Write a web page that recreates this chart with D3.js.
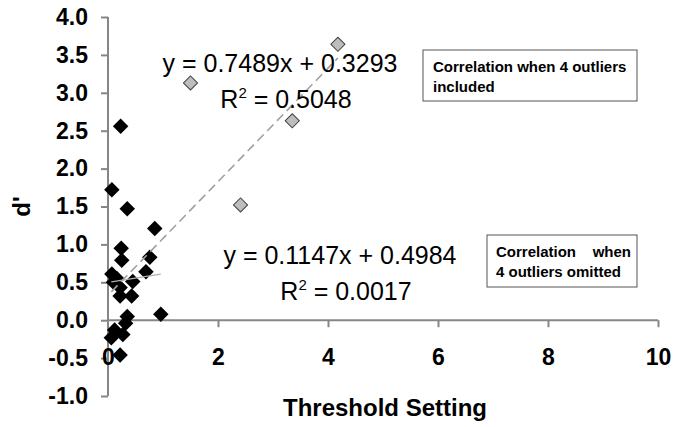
<!DOCTYPE html>
<html><head><meta charset="utf-8">
<script src="https://cdn.jsdelivr.net/npm/d3@7"></script>
<style>body{margin:0;background:#fff}svg{display:block}text{font-family:"Liberation Sans",Arial,sans-serif}</style>
</head><body><svg id="c" width="683" height="427"></svg>
<script>
// Data (Threshold Setting vs d')
const mainX = [0.23,0.07,0.35,0.85,0.24,0.25,0.76,0.69,0.07,0.16,0.10,0.45,0.22,0.22,0.43,0.96,0.35,0.32,0.12,0.27,0.06,0.22];
const mainY = [2.56,1.72,1.47,1.21,0.95,0.79,0.83,0.64,0.61,0.55,0.50,0.51,0.43,0.32,0.32,0.08,0.05,-0.04,-0.13,-0.19,-0.23,-0.46];
const outX = [1.50,4.18,3.35,2.41];
const outY = [3.13,3.64,2.63,1.52];
const xTicks = [0,2,4,6,8,10];
const yTicks = [-1.0,-0.5,0.0,0.5,1.0,1.5,2.0,2.5,3.0,3.5,4.0];
const fitAll = {slope:0.7489, intercept:0.3293, r2:"0.5048"};
const fitMain = {slope:0.1147, intercept:0.4984, r2:"0.0017"};
const box1Lines = ["Correlation when 4 outliers","included"];
const box2Lines = ["Correlation    when","4 outliers omitted"];

const svg = d3.select("#c");
const x = d3.scaleLinear().domain([0,10]).range([108,658]);
const y = d3.scaleLinear().domain([-1,4]).range([396,17]);
const axisCol = "#868686";
const fmt1 = d => d3.format(".1f")(d).replace("\u2212","-");

// Y axis
const yAxis = svg.append("g").attr("transform",`translate(${x(0)},0)`)
  .call(d3.axisLeft(y).tickValues(yTicks).tickSize(7).tickFormat(fmt1));
yAxis.select(".domain").attr("stroke",axisCol).attr("stroke-width",2).attr("d",`M0,${y(-1)}V${y(4)}`);
yAxis.selectAll(".tick line").attr("stroke",axisCol).attr("stroke-width",2);
yAxis.selectAll(".tick text").attr("x",-20).attr("fill","#000")
  .style("font-size","23px").style("font-weight","bold").style("font-family","Liberation Sans, Arial, sans-serif");

// X axis at y=0
const xAxis = svg.append("g").attr("transform",`translate(0,${y(0)})`)
  .call(d3.axisBottom(x).tickValues(xTicks).tickSize(7).tickFormat(d3.format("d")));
xAxis.select(".domain").attr("stroke",axisCol).attr("stroke-width",2).attr("d",`M${x(0)},0H${x(10)}`);
xAxis.selectAll(".tick line").attr("stroke",axisCol).attr("stroke-width",2).filter(d=>d===0).remove();
xAxis.selectAll(".tick text").attr("y",28).attr("dy","0.71em").attr("fill","#000")
  .style("font-size","23px").style("font-weight","bold").style("font-family","Liberation Sans, Arial, sans-serif");

// Axis titles
svg.append("text").attr("transform",`translate(30,${(y(4)+y(-1))/2}) rotate(-90)`)
  .attr("text-anchor","middle").style("font-size","24px").style("font-weight","bold").text("d'");
svg.append("text").attr("x",385).attr("y",416).attr("text-anchor","middle")
  .style("font-size","24px").style("font-weight","bold").text("Threshold Setting");

// markers
const mainPts = mainX.map((v,i)=>({x:v,y:mainY[i]}));
const outPts = outX.map((v,i)=>({x:v,y:outY[i]}));
svg.append("g").selectAll("path").data(mainPts).join("path")
  .attr("d",d3.symbol().type(d3.symbolSquare).size(120)).attr("transform",d=>`translate(${x(d.x)},${y(d.y)}) rotate(45)`)
  .attr("fill","#000");
svg.append("g").selectAll("path").data(outPts).join("path")
  .attr("d",d3.symbol().type(d3.symbolSquare).size(100)).attr("transform",d=>`translate(${x(d.x)},${y(d.y)}) rotate(45)`)
  .attr("fill","#bdbdbd").attr("stroke","#404040").attr("stroke-width",1);

// trendlines
const allX = mainX.concat(outX);
const x0 = d3.min(allX), x1 = d3.max(allX);
svg.append("line").attr("x1",x(x0)).attr("y1",y(fitAll.slope*x0+fitAll.intercept))
  .attr("x2",x(x1)).attr("y2",y(fitAll.slope*x1+fitAll.intercept))
  .attr("stroke","#a0a0a0").attr("stroke-width",1.6).attr("stroke-dasharray","9,5");
const m0 = d3.min(mainX), m1 = d3.max(mainX);
svg.append("line").attr("x1",x(m0)).attr("y1",y(fitMain.slope*m0+fitMain.intercept))
  .attr("x2",x(m1)).attr("y2",y(fitMain.slope*m1+fitMain.intercept))
  .attr("stroke","#b0b0b0").attr("stroke-width",1.2);

// equations
function eq(cx, cy, fit){
  svg.append("text").attr("x",cx).attr("y",cy).attr("text-anchor","middle")
    .style("font-size","25px").text(`y = ${fit.slope.toFixed(4)}x + ${fit.intercept.toFixed(4)}`);
  const t = svg.append("text").attr("x",cx+6).attr("y",cy+36).attr("text-anchor","middle").style("font-size","25px");
  t.append("tspan").text("R");
  t.append("tspan").attr("dy",-10).style("font-size","15px").text("2");
  t.append("tspan").attr("dy",10).text(` = ${fit.r2}`);
}
eq(280, 72, fitAll);
eq(340, 264, fitMain);

// boxes
function box(x0,y0,w,h,lines,tx){
  svg.append("rect").attr("x",x0).attr("y",y0).attr("width",w).attr("height",h)
    .attr("fill","#fff").attr("stroke","#555").attr("stroke-width",1);
  lines.forEach((l,i)=>{
    svg.append("text").attr("x",tx).attr("y",y0+22+i*20).attr("xml:space","preserve")
      .style("white-space","pre").style("font-size","15px").style("font-weight","bold").text(l);
  });
}
box(423,50,214,51,box1Lines,433);
box(487,235,150,52,box2Lines,496);
</script></body></html>
